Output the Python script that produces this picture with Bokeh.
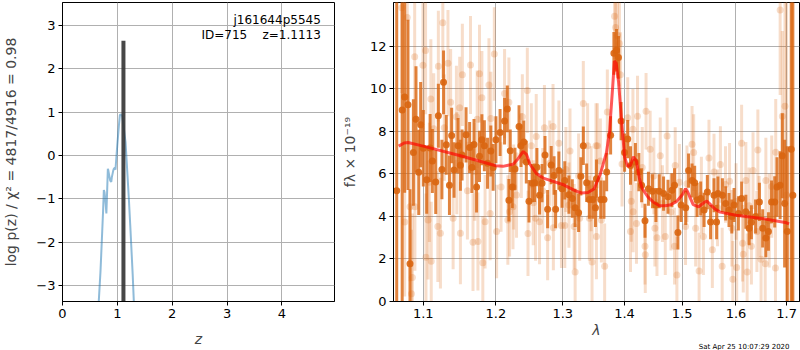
import numpy as np
from bokeh.plotting import figure
from bokeh.layouts import row
from bokeh.models import FixedTicker, Label, Span, ColumnDataSource, Title
from bokeh.embed import file_html
from bokeh.resources import INLINE

# ---------------- left panel data: log p(z) ----------------
pz_z = [0.640, 0.662, 0.693, 0.724, 0.742, 0.754, 0.766, 0.780, 0.800, 0.812,
        0.827, 0.833, 0.850, 0.870, 0.889, 0.900, 0.925, 0.936, 0.955, 0.966,
        0.998, 1.028, 1.046, 1.058, 1.075, 1.089, 1.110, 1.130, 1.150, 1.180,
        1.210, 1.235, 1.253, 1.280, 1.300, 1.320]
pz_logp = [-4.0, -3.35, -2.67, -1.76, -1.22, -0.80, -0.85, -1.00, -1.34, -0.90,
           -0.31, -0.33, -0.45, -0.58, -0.61, -0.50, -0.35, -0.31, -0.28, -0.33,
           0.22, 0.68, 0.93, 0.95, 0.93, 0.91, 0.72, 0.50, 0.30, -0.35,
           -1.00, -1.60, -2.06, -2.75, -3.35, -4.0]
z_best = 1.1113
z_best_top = 2.65
left_xticks = [0, 1, 2, 3, 4]
left_yticks = [-3, -2, -1, 0, 1, 2, 3]

# ---------------- right panel data: spectrum ----------------
# darker spectrum (points with error bars)
d_lam = [1.0655, 1.0725, 1.0757, 1.0800, 1.0826, 1.0870, 1.0904, 1.0940, 1.0965, 1.1000,
         1.1045, 1.1090, 1.1120, 1.1165, 1.1200, 1.1248, 1.1270, 1.1307, 1.1350, 1.1380,
         1.1413, 1.1468, 1.1500, 1.1523, 1.1578, 1.1628, 1.1660, 1.1689, 1.1725, 1.1766,
         1.1800, 1.1835, 1.1880, 1.1927, 1.1960, 1.2000, 1.2060, 1.2125, 1.2165, 1.2188,
         1.2208, 1.2237, 1.2277, 1.2337, 1.2366, 1.2407, 1.2445, 1.2485, 1.2535, 1.2570,
         1.2604, 1.2644, 1.2682, 1.2727, 1.2767, 1.2822, 1.2866, 1.2890, 1.2940, 1.2990,
         1.3032, 1.3097, 1.3150, 1.3195, 1.3250, 1.3286, 1.3325, 1.3378, 1.3422, 1.3476,
         1.3520, 1.3536, 1.3606, 1.3659, 1.3703, 1.3768, 1.3822, 1.3866, 1.3898, 1.3942,
         1.4000, 1.4053, 1.4100, 1.4183, 1.4242, 1.4289, 1.4347, 1.4406, 1.4476, 1.4536,
         1.4594, 1.4670, 1.4748, 1.4818, 1.4864, 1.4924, 1.4982, 1.5065, 1.5116, 1.5179,
         1.5227, 1.5271, 1.5337, 1.5400, 1.5460, 1.5520, 1.5584, 1.5632, 1.5657, 1.5742,
         1.5804, 1.5866, 1.5920, 1.5963, 1.6046, 1.6108, 1.6190, 1.6254, 1.6298, 1.6380,
         1.6455, 1.6520, 1.6583, 1.6634, 1.6697, 1.6760, 1.6806, 1.6869, 1.6913, 1.6960,
         1.7015, 1.7095, 1.7128]
d_flux = [5.20, 9.00, 9.61, 9.24, 1.77, 7.00, 8.56, 6.07, 8.31, 7.20,
          5.72, 7.21, 6.60, 5.61, 8.73, 6.20, 10.30, 7.36, 5.46, 7.80,
          6.18, 7.32, 6.40, 6.88, 7.83, 7.24, 6.30, 7.38, 5.38, 6.82,
          7.60, 7.32, 6.50, 7.07, 6.30, 7.60, 7.94, 8.48, 9.05, 4.76,
          7.08, 5.38, 6.23, 8.22, 7.32, 7.50, 6.55, 4.71, 5.56, 5.58,
          6.31, 4.99, 5.56, 6.88, 4.34, 6.41, 5.92, 4.34, 6.15, 5.30,
          5.69, 5.02, 4.84, 4.40, 4.17, 5.88, 7.32, 5.58, 4.79, 4.79,
          4.40, 5.77, 4.79, 4.79, 6.08, 7.81, 11.66, 11.81, 11.47, 8.48,
          7.00, 7.63, 6.39, 6.55, 6.08, 5.46, 3.79, 5.30, 5.18, 4.53,
          5.18, 5.07, 4.92, 5.23, 5.46, 3.24, 4.53, 4.40, 6.15, 5.69,
          5.58, 4.77, 4.84, 4.30, 5.14, 3.73, 4.99, 3.73, 5.07, 4.99,
          4.61, 4.30, 3.99, 4.53, 4.14, 4.84, 4.22, 3.44, 3.72, 3.99,
          4.68, 3.44, 2.98, 3.29, 4.68, 4.68, 5.38, 5.46, 6.85, 4.60,
          3.29, 7.16, 4.99]
d_err = [25.0, 25.0, 4.5, 4.0, 3.5, 2.5, 2.5, 2.0, 2.0, 1.8,
         1.6, 1.6, 1.5, 1.5, 1.5, 1.4, 1.5, 1.4, 1.4, 1.3,
         1.3, 1.3, 1.2, 1.2, 1.3, 1.2, 1.2, 1.2, 1.2, 1.2,
         1.2, 1.2, 1.2, 1.2, 1.1, 1.1, 1.1, 1.1, 1.1, 1.0,
         1.0, 1.0, 1.0, 1.0, 1.0, 1.0, 1.0, 1.0, 0.9, 0.9,
         0.9, 0.9, 0.9, 0.9, 0.9, 0.9, 0.9, 0.9, 0.9, 0.9,
         0.9, 0.9, 0.9, 0.9, 0.9, 0.9, 0.9, 0.9, 0.9, 0.9,
         0.9, 0.9, 0.9, 0.9, 0.9, 0.9, 1.0, 1.0, 1.0, 0.9,
         0.9, 0.9, 0.9, 0.9, 0.9, 0.8, 0.8, 0.8, 0.8, 0.8,
         0.8, 0.8, 0.8, 0.8, 0.8, 0.8, 0.8, 0.8, 0.8, 0.8,
         0.8, 0.8, 0.8, 0.8, 0.8, 0.8, 0.8, 0.8, 0.8, 0.8,
         0.8, 0.8, 0.8, 0.8, 0.8, 0.8, 0.8, 0.8, 0.8, 0.8,
         0.9, 0.9, 0.9, 0.9, 1.0, 1.2, 1.4, 1.6, 2.0, 3.0,
         4.0, 25.0, 25.0]

# lighter spectrum (second set, larger errors)
l_lam = [1.0720, 1.0790, 1.0757, 1.0826, 1.0845, 1.0857, 1.0887, 1.0890, 1.0995, 1.1030,
         1.1035, 1.1063, 1.1080, 1.1100, 1.1105, 1.1138, 1.1193, 1.1200, 1.1228, 1.1260,
         1.1280, 1.1330, 1.1366, 1.1400, 1.1445, 1.1450, 1.1490, 1.1500, 1.1527, 1.1597,
         1.1640, 1.1675, 1.1700, 1.1734, 1.1744, 1.1766, 1.1800, 1.1813, 1.1845, 1.1900,
         1.1917, 1.1927, 1.1977, 1.2010, 1.2074, 1.2125, 1.2173, 1.2188, 1.2198, 1.2248,
         1.2258, 1.2300, 1.2371, 1.2386, 1.2460, 1.2470, 1.2520, 1.2549, 1.2584, 1.2594,
         1.2644, 1.2692, 1.2718, 1.2767, 1.2800, 1.2850, 1.2855, 1.2940, 1.2980, 1.3032,
         1.3050, 1.3097, 1.3114, 1.3179, 1.3195, 1.3250, 1.3267, 1.3325, 1.3394, 1.3422,
         1.3450, 1.3465, 1.3529, 1.3536, 1.3552, 1.3600, 1.3617, 1.3670, 1.3714, 1.3833,
         1.3850, 1.3880, 1.3914, 1.3930, 1.3958, 1.4053, 1.4100, 1.4113, 1.4141, 1.4145,
         1.4201, 1.4219, 1.4300, 1.4347, 1.4352, 1.4365, 1.4436, 1.4500, 1.4518, 1.4554,
         1.4612, 1.4650, 1.4700, 1.4732, 1.4800, 1.4864, 1.4876, 1.4906, 1.4950, 1.5061,
         1.5087, 1.5179, 1.5209, 1.5245, 1.5308, 1.5350, 1.5387, 1.5490, 1.5553, 1.5584,
         1.5650, 1.5704, 1.5737, 1.5800, 1.5877, 1.5920, 1.5939, 1.6000, 1.6013, 1.6108,
         1.6127, 1.6140, 1.6190, 1.6215, 1.6250, 1.6298, 1.6330, 1.6406, 1.6425, 1.6450,
         1.6488, 1.6570, 1.6583, 1.6650, 1.6700, 1.6775, 1.6780, 1.6869, 1.6913, 1.6967,
         1.7000]
l_flux = [13.80, 13.34, 3.73, 4.45, 0.37, 1.13, 11.50, 4.45, 11.10, 11.80,
          2.08, 3.83, 5.60, 9.52, 1.89, 8.12, 3.52, 11.06, 3.21, 13.10,
          8.17, 11.20, 9.36, 3.91, 8.68, 6.50, 9.10, 3.21, 10.65, 5.21,
          11.11, 2.79, 6.10, 8.56, 2.82, 10.70, 9.57, 1.82, 3.75, 10.17,
          4.14, 8.60, 11.63, 3.29, 5.38, 9.77, 3.83, 9.36, 4.22, 4.45,
          5.38, 5.00, 6.86, 8.68, 9.92, 3.20, 7.32, 4.64, 3.91, 7.75,
          3.75, 5.21, 8.17, 3.00, 6.50, 8.22, 3.47, 7.44, 3.57, 3.57,
          6.20, 4.53, 7.07, 3.52, 1.39, 5.90, 3.91, 9.30, 7.32, 3.91,
          5.30, 1.86, 7.32, 3.05, 7.32, 6.60, 3.83, 1.66, 8.90, 13.40,
          12.87, 12.50, 12.12, 10.65, 6.46, 8.64, 3.29, 4.71, 8.09, 4.22,
          3.67, 8.71, 6.30, 2.60, 2.20, 8.94, 7.16, 5.90, 3.44, 3.00,
          6.85, 4.60, 3.05, 7.78, 4.20, 2.60, 6.39, 1.24, 5.60, 3.52,
          5.53, 7.39, 7.00, 3.44, 1.43, 5.00, 3.05, 6.74, 2.43, 6.08,
          4.40, 6.44, 1.66, 5.50, 5.65, 3.44, 1.04, 4.70, 1.60, 7.44,
          2.74, 2.22, 5.69, 1.39, 4.50, 2.60, 6.15, 3.29, 7.12, 4.00,
          1.98, 1.77, 5.69, 3.80, 5.40, 1.58, 7.01, 13.70, 8.71, 9.18,
          5.00]
l_err = [4.0, 4.0, 3.5, 3.5, 3.0, 3.0, 3.0, 3.0, 3.0, 3.0,
         3.0, 2.8, 2.8, 2.8, 2.8, 2.6, 2.6, 2.6, 2.6, 2.6,
         2.5, 2.5, 2.5, 2.4, 2.4, 2.4, 2.4, 2.4, 2.4, 2.3,
         2.3, 2.3, 2.3, 2.3, 2.3, 2.3, 2.2, 2.2, 2.2, 2.2,
         2.2, 2.2, 2.2, 2.2, 2.1, 2.1, 2.1, 2.1, 2.1, 2.0,
         2.0, 2.0, 2.0, 2.0, 2.0, 2.0, 2.0, 2.0, 2.0, 2.0,
         2.0, 2.0, 2.0, 2.0, 2.0, 2.0, 2.0, 2.0, 2.0, 2.0,
         2.0, 2.0, 2.0, 2.0, 2.0, 2.0, 2.0, 2.0, 2.0, 2.0,
         2.0, 2.0, 2.0, 2.0, 2.0, 2.0, 2.0, 2.0, 2.0, 2.0,
         2.0, 2.0, 2.0, 2.0, 2.0, 1.9, 1.9, 1.9, 1.9, 1.9,
         1.9, 1.9, 1.9, 1.8, 1.8, 1.8, 1.8, 1.8, 1.8, 1.8,
         1.8, 1.8, 1.8, 1.8, 1.8, 1.8, 1.8, 1.8, 1.8, 1.8,
         1.8, 1.8, 1.8, 1.8, 1.8, 1.8, 1.8, 1.8, 1.8, 1.8,
         1.8, 1.8, 1.8, 1.8, 1.8, 1.8, 1.8, 1.8, 1.8, 1.8,
         1.8, 1.8, 1.8, 1.8, 1.8, 1.8, 1.8, 1.9, 1.9, 1.9,
         2.0, 2.0, 2.0, 2.2, 2.4, 2.5, 2.5, 4.0, 4.0, 6.0,
         25.0]

# best-fit model
m_lam = [1.068, 1.075, 1.080, 1.100, 1.150, 1.200, 1.210, 1.225, 1.232, 1.240,
         1.245, 1.250, 1.260, 1.270, 1.300, 1.320, 1.330, 1.340, 1.350, 1.360,
         1.370, 1.375, 1.380, 1.383, 1.386, 1.390, 1.395, 1.400, 1.405, 1.410,
         1.415, 1.420, 1.425, 1.430, 1.440, 1.450, 1.460, 1.470, 1.480, 1.490,
         1.500, 1.506, 1.510, 1.515, 1.520, 1.530, 1.540, 1.545, 1.550, 1.560,
         1.570, 1.600, 1.650, 1.700, 1.705]
m_flux = [7.30, 7.45, 7.47, 7.30, 6.85, 6.38, 6.35, 6.45, 6.70, 7.05,
          6.90, 6.45, 6.00, 5.80, 5.50, 5.20, 5.10, 5.12, 5.30, 6.00,
          7.00, 8.00, 10.00, 11.30, 11.20, 10.30, 8.50, 6.80, 6.35, 6.40,
          6.80, 6.60, 5.80, 5.30, 4.90, 4.65, 4.50, 4.50, 4.55, 4.70,
          5.00, 5.30, 5.15, 4.85, 4.55, 4.45, 4.65, 4.72, 4.60, 4.35,
          4.20, 4.05, 3.90, 3.70, 3.65]

right_xticks = [1.1, 1.2, 1.3, 1.4, 1.5, 1.6, 1.7]
right_yticks = [0, 2, 4, 6, 8, 10, 12]
timestamp = "Sat Apr 25 10:07:29 2020"

FONT = "DejaVu Sans"
ORANGE = "#d9650f"
GRID = "#b0b0b0"


def style(p):
    p.outline_line_color = "black"
    p.outline_line_width = 1
    p.outline_line_alpha = 1
    for ax in (p.xaxis[0], p.yaxis[0]):
        ax.major_label_text_font = FONT
        ax.major_label_text_font_size = "13px"
        ax.major_label_text_color = "black"
        ax.axis_label_text_font = FONT
        ax.axis_label_text_font_size = "14px"
        ax.axis_label_text_font_style = "normal"
        ax.axis_line_color = "black"
        ax.major_tick_line_color = "black"
        ax.major_tick_in = 0
        ax.major_tick_out = 4
        ax.minor_tick_line_color = None
        ax.major_label_standoff = 3
        ax.axis_label_standoff = 4
    p.xgrid.grid_line_color = GRID
    p.ygrid.grid_line_color = GRID
    p.xgrid.grid_line_width = 1
    p.ygrid.grid_line_width = 1
    p.background_fill_color = "white"
    p.border_fill_color = "white"


# ---------------- left figure ----------------
p1 = figure(width=338, height=350, x_range=(0, 4.96), y_range=(-3.37, 3.53),
            output_backend="svg", toolbar_location=None,
            min_border_left=62, min_border_right=4, min_border_top=2, min_border_bottom=47)
style(p1)
p1.xaxis.ticker = FixedTicker(ticks=left_xticks)
p1.yaxis.ticker = FixedTicker(ticks=left_yticks)
p1.xgrid.ticker = FixedTicker(ticks=left_xticks)
p1.ygrid.ticker = FixedTicker(ticks=left_yticks)
p1.yaxis.major_label_overrides = {t: (str(t).replace("-", "\u2212")) for t in left_yticks}
p1.xaxis.axis_label = "z"
p1.xaxis.axis_label_text_font_style = "italic"
p1.xaxis.axis_label_standoff = 10
p1.yaxis.axis_label = "log p(z) / \u03c7\u00b2 = 4817/4916 = 0.98"
p1.yaxis.axis_label_standoff = 14

p1.line(pz_z, pz_logp, line_color="#1f77b4", line_alpha=0.5, line_width=2)
p1.segment(x0=[z_best], y0=[-4.0], x1=[z_best], y1=[z_best_top],
           line_color="#333333", line_width=4, line_alpha=0.9)

p1.add_layout(Label(x=4.71, y=3.13, text="j161644p5545", text_align="right",
                    text_baseline="middle", text_font=FONT, text_font_size="12px",
                    text_color="black"))
p1.add_layout(Label(x=4.71, y=2.78, text="ID=715\u00a0\u00a0\u00a0\u00a0z=1.1113",
                    text_align="right", text_baseline="middle", text_font=FONT,
                    text_font_size="12px", text_color="black"))

# ---------------- right figure ----------------
p2 = figure(width=462, height=350, x_axis_type="log",
            x_range=(1.0614, 1.7265), y_range=(0, 14.05),
            output_backend="svg", toolbar_location=None,
            min_border_left=52, min_border_right=1, min_border_top=2, min_border_bottom=47)
style(p2)
p2.xaxis.ticker = FixedTicker(ticks=right_xticks)
p2.xgrid.ticker = FixedTicker(ticks=right_xticks)
p2.yaxis.ticker = FixedTicker(ticks=right_yticks)
p2.ygrid.ticker = FixedTicker(ticks=right_yticks)
p2.xaxis.major_label_overrides = {t: "%.1f" % t for t in right_xticks}
p2.xaxis.axis_label = "\u03bb"
p2.xaxis.axis_label_text_font_style = "italic"
p2.yaxis.axis_label = "f\u03bb \u00d7 10\u207b\u00b9\u2079"
p2.yaxis.axis_label_standoff = 9
p2.xaxis.axis_label_standoff = 1

l_arr = np.array(l_flux)
le_arr = np.array(l_err)
light = ColumnDataSource(dict(x=l_lam, y=l_flux, y0=l_arr - le_arr, y1=l_arr + le_arr))
d_arr = np.array(d_flux)
de_arr = np.array(d_err)
dark = ColumnDataSource(dict(x=d_lam, y=d_flux, y0=d_arr - de_arr, y1=d_arr + de_arr))

p2.segment(x0="x", y0="y0", x1="x", y1="y1", source=light,
           line_color=ORANGE, line_alpha=0.22, line_width=3)
p2.scatter("x", "y", source=light, size=7, fill_color=ORANGE, fill_alpha=0.22,
           line_color=None)
p2.segment(x0="x", y0="y0", x1="x", y1="y1", source=dark,
           line_color=ORANGE, line_alpha=0.8, line_width=3)
p2.scatter("x", "y", source=dark, size=7, fill_color=ORANGE, fill_alpha=0.9,
           line_color=None)
p2.line(m_lam, m_flux, line_color="red", line_alpha=0.65, line_width=3)
p2.add_layout(Span(location=0, dimension="width", line_color="black",
                   line_dash="2 2", line_width=1))
p2.add_layout(Title(text=timestamp, align="right", text_font=FONT,
                    text_font_size="7px", text_font_style="normal",
                    text_color="black", standoff=0, offset=10), "below")

layout = row(p1, p2)
open("out.html", "w").write(file_html(layout, INLINE))
